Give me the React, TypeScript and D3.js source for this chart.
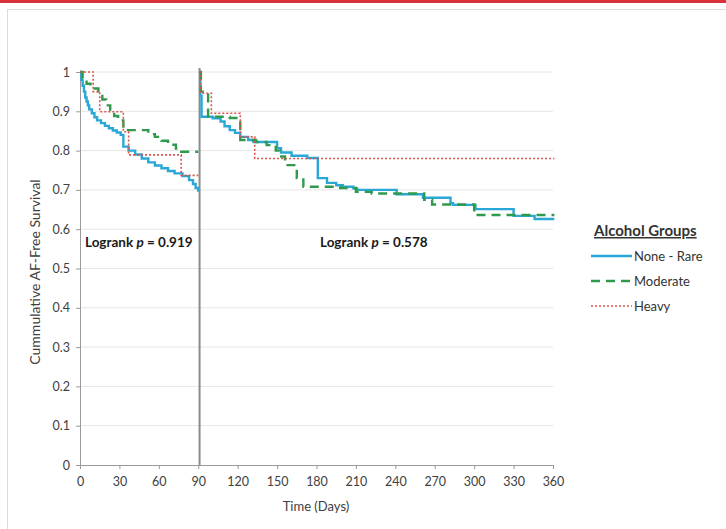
import {useEffect, useRef} from "react";
import * as d3 from "d3";

// survival curves, [day, survival], first 90 days
const noneRare1 = [[0,1],[1,0.98],[2,0.965],[3,0.95],[4,0.935],[5,0.925],[6,0.915],[7,0.905],[9,0.895],[11,0.885],[13,0.877],[16,0.87],[19,0.863],[22,0.857],[25,0.851],[28,0.846],[31,0.84],[33,0.81],[37,0.8],[42,0.79],[47,0.78],[52,0.77],[57,0.762],[62,0.755],[67,0.748],[72,0.742],[78,0.735],[83,0.725],[86,0.715],[88,0.705],[90,0.695]];
const moderate1 = [[0,1],[2,0.985],[5,0.97],[8,0.958],[14,0.946],[17,0.93],[20,0.915],[23,0.9],[26,0.888],[29,0.877],[33,0.852],[52,0.842],[57,0.835],[62,0.825],[67,0.815],[73,0.805],[77,0.797],[90,0.797]];
const heavy1 = [[0,1],[10,0.95],[15,0.899],[33,0.848],[37,0.789],[77,0.737],[90,0.737]];

// after day 91
const noneRare2 = [[91,1],[91.5,0.94],[92.5,0.886],[101,0.882],[107,0.874],[110,0.862],[114,0.852],[118,0.845],[122,0.835],[128,0.827],[132,0.822],[150,0.806],[153,0.795],[161,0.787],[173,0.781],[181,0.73],[188,0.718],[195,0.712],[200,0.708],[208,0.704],[211,0.7],[241,0.689],[261,0.68],[282,0.666],[284,0.662],[301,0.651],[330,0.634],[346,0.626],[361,0.626]];
const moderate2 = [[91,1],[92,0.95],[97.5,0.886],[114,0.883],[122,0.827],[134,0.822],[142,0.814],[149,0.8],[152,0.785],[156,0.763],[165,0.73],[170,0.708],[198,0.705],[210,0.695],[222,0.691],[262,0.675],[268,0.663],[300,0.636],[361,0.636]];
const heavy2 = [[91,1],[92,0.946],[100,0.895],[122,0.835],[133,0.78],[361,0.78]];

const xTicks = [0,30,60,90,120,150,180,210,240,270,300,330,360];
const yTicks = [0,0.1,0.2,0.3,0.4,0.5,0.6,0.7,0.8,0.9,1];
const cutDay = 91;

const groups = ["None - Rare", "Moderate", "Heavy"];
const colors = ["#2aa7d6", "#2f9a4c", "#d9534f"];
const dashes = ["none", "9,6", "2,2"];
const widths = [2.4, 2.4, 1.6];

const FONT = "Lato, 'Open Sans', sans-serif";

const App = () => {
    const ref = useRef<SVGSVGElement>(null);

    useEffect(() => {
        const svg = d3.select(ref.current);
        svg.selectAll("*").remove();

        const x = d3.scaleLinear().domain([0, 360]).range([80, 553]);
        const y = d3.scaleLinear().domain([0, 1]).range([465, 72]);

        // page frame
        svg.append("rect").attr("x", 0).attr("y", 0).attr("width", 726).attr("height", 3).attr("fill", "#d8323c");
        svg.append("rect").attr("x", 7.5).attr("y", 9.5).attr("width", 730).attr("height", 530)
            .attr("fill", "none").attr("stroke", "#dcdcdc");

        // gridlines
        svg.append("g").selectAll("line").data(yTicks.slice(1)).join("line")
            .attr("x1", x(0)).attr("x2", x(360))
            .attr("y1", d => y(d)).attr("y2", d => y(d))
            .attr("stroke", "#e6e6e6");

        const xAxis = d3.axisBottom(x).tickValues(xTicks).tickSize(4).tickSizeOuter(0).tickPadding(8);
        const yAxis = d3.axisLeft(y).tickValues(yTicks).tickSize(4).tickSizeOuter(0).tickPadding(6)
            .tickFormat(d => String(d));

        const gx = svg.append("g").attr("transform", "translate(0,465)").call(xAxis);
        const gy = svg.append("g").attr("transform", "translate(80,0)").call(yAxis);
        for (const g of [gx, gy]) {
            g.select(".domain").attr("stroke", "#9a9a9a");
            g.selectAll(".tick line").attr("stroke", "#9a9a9a");
            g.selectAll(".tick text").attr("fill", "#404040").attr("font-size", 12.5).attr("font-family", FONT);
        }

        // divider at day 91
        svg.append("line").attr("x1", x(cutDay)).attr("x2", x(cutDay))
            .attr("y1", y(0)).attr("y2", y(1) - 4)
            .attr("stroke", "#8c8c8c").attr("stroke-width", 2);

        const line = d3.line<number[]>()
            .x(d => x(d[0]))
            .y(d => y(d[1]))
            .curve(d3.curveStepAfter);

        const series = [[noneRare1, noneRare2], [moderate1, moderate2], [heavy1, heavy2]];
        series.forEach((parts, i) => {
            parts.forEach(p => {
                svg.append("path").datum(p).attr("d", line)
                    .attr("fill", "none").attr("stroke", colors[i])
                    .attr("stroke-width", widths[i]).attr("stroke-dasharray", dashes[i]);
            });
        });

        // logrank labels
        const logrank = (lx: number, val: string) => {
            const t = svg.append("text").attr("x", lx).attr("y", 247)
                .attr("font-family", FONT).attr("font-size", 13.5).attr("font-weight", "bold").attr("fill", "#1a1a1a");
            t.append("tspan").text("Logrank ");
            t.append("tspan").attr("font-style", "italic").text("p");
            t.append("tspan").text(" = " + val);
        };
        logrank(85, "0.919");
        logrank(320, "0.578");

        // axis titles
        svg.append("text").attr("transform", "translate(40,272) rotate(-90)")
            .attr("text-anchor", "middle").attr("font-family", FONT).attr("font-size", 14)
            .attr("fill", "#404040").text("Cummulative AF-Free Survival");
        svg.append("text").attr("x", 316).attr("y", 511)
            .attr("text-anchor", "middle").attr("font-family", FONT).attr("font-size", 13)
            .attr("fill", "#404040").text("Time (Days)");

        // legend
        const lg = svg.append("g");
        lg.append("text").attr("x", 594).attr("y", 236).attr("font-family", FONT)
            .attr("font-size", 15).attr("font-weight", "bold").attr("fill", "#333")
            .attr("text-decoration", "underline").text("Alcohol Groups");
        groups.forEach((g, i) => {
            const ly = 256 + i * 25;
            lg.append("line").attr("x1", 591).attr("x2", 632).attr("y1", ly).attr("y2", ly)
                .attr("stroke", colors[i]).attr("stroke-width", widths[i]).attr("stroke-dasharray", dashes[i]);
            lg.append("text").attr("x", 634).attr("y", ly + 4.5).attr("font-family", FONT)
                .attr("font-size", 13).attr("fill", "#333").text(g);
        });
    }, []);

    return (
        <div>
            <style>{"body{margin:0}"}</style>
            <svg ref={ref} width={726} height={529} style={{display: "block", background: "#fff"}} />
        </div>
    );
};

export default App;
